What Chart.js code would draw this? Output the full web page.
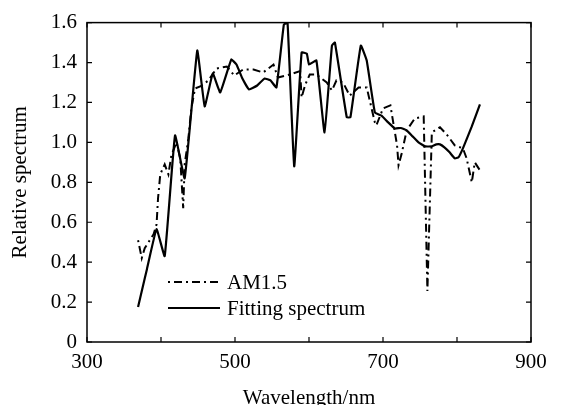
<!DOCTYPE html>
<html>
<head>
<meta charset="utf-8">
<script src="https://cdn.jsdelivr.net/npm/chart.js@4.4.1/dist/chart.umd.min.js"></script>
<style>
  html, body { margin: 0; padding: 0; background: #fff; }
  #wrap { width: 563px; height: 405px; }
</style>
</head>
<body>
<div id="wrap"><canvas id="spectrumChart"></canvas></div>
<script>
// AM1.5 reference spectrum (dash-dot)
const amWavelength = [369, 374, 378, 390, 394, 396, 399, 405, 410, 414, 421, 426, 430, 432, 437, 441, 446, 453, 464, 475, 489, 499, 511, 525, 538, 552, 558, 574, 588, 590, 595, 601, 610, 624, 631, 637, 646, 655, 667, 678, 689, 691, 700, 710, 719, 721, 725, 732, 743, 755, 760, 766, 777, 786, 797, 808, 813, 820, 824, 831];
const amValues = [0.51, 0.42, 0.47, 0.54, 0.59, 0.72, 0.84, 0.89, 0.84, 0.935, 1.0, 0.92, 0.67, 0.89, 1.02, 1.17, 1.27, 1.28, 1.31, 1.37, 1.38, 1.335, 1.365, 1.365, 1.35, 1.39, 1.325, 1.34, 1.357, 1.225, 1.29, 1.34, 1.34, 1.30, 1.26, 1.31, 1.30, 1.234, 1.275, 1.275, 1.10, 1.085, 1.17, 1.185, 0.985, 0.886, 0.94, 1.06, 1.12, 1.13, 0.255, 1.05, 1.076, 1.04, 0.985, 0.97, 0.92, 0.80, 0.90, 0.86];

// Fitting spectrum (solid)
const fitWavelength = [369, 375, 381, 394, 405, 419, 432, 449, 459, 470, 480, 495, 502, 510, 519, 530, 540, 548, 556, 566, 571, 580, 590, 597, 600, 610, 621, 631, 635, 651, 656, 670, 678, 689, 698, 707, 716, 724, 732, 740, 748, 757, 766, 772, 777, 783, 790, 797, 802, 808, 820, 831];
const fitValues = [0.175, 0.27, 0.365, 0.565, 0.43, 1.035, 0.82, 1.46, 1.18, 1.345, 1.25, 1.415, 1.39, 1.32, 1.265, 1.285, 1.32, 1.31, 1.275, 1.59, 1.6, 0.88, 1.45, 1.445, 1.39, 1.41, 1.05, 1.485, 1.5, 1.126, 1.126, 1.485, 1.41, 1.15, 1.134, 1.10, 1.07, 1.072, 1.06, 1.03, 1.0, 0.98, 0.98, 0.99, 0.99, 0.975, 0.95, 0.92, 0.925, 0.97, 1.08, 1.19];

const xLabels = [300, 500, 700, 900];
const seriesNames = ['AM1.5', 'Fitting spectrum'];

const serif = '"Liberation Serif", "Times New Roman", serif';

function toPoints(xs, ys) {
  return xs.map((x, i) => ({ x: x, y: ys[i] }));
}

// frame with inward ticks on all four sides
const framePlugin = {
  id: 'frame',
  afterDraw(chart) {
    const ctx = chart.ctx;
    const a = chart.chartArea;
    const xs = chart.scales.x;
    const ys = chart.scales.y;
    ctx.save();
    ctx.strokeStyle = '#000';
    ctx.lineWidth = 1.5;
    ctx.strokeRect(a.left, a.top, a.right - a.left, a.bottom - a.top);
    ctx.lineWidth = 1.2;
    ctx.beginPath();
    xs.ticks.forEach(t => {
      const px = xs.getPixelForValue(t.value);
      ctx.moveTo(px, a.bottom); ctx.lineTo(px, a.bottom - 5);
      ctx.moveTo(px, a.top); ctx.lineTo(px, a.top + 5);
    });
    ys.ticks.forEach(t => {
      const py = ys.getPixelForValue(t.value);
      ctx.moveTo(a.left, py); ctx.lineTo(a.left + 5, py);
      ctx.moveTo(a.right, py); ctx.lineTo(a.right - 5, py);
    });
    ctx.stroke();
    ctx.restore();
  }
};

// legend drawn inside the plot, lower left
const innerLegend = {
  id: 'innerLegend',
  afterDatasetsDraw(chart) {
    const ctx = chart.ctx;
    const a = chart.chartArea;
    const x0 = a.left + 81, x1 = a.left + 133, tx = a.left + 140;
    const rows = [a.bottom - 60, a.bottom - 34];
    ctx.save();
    ctx.font = '21px ' + serif;
    ctx.fillStyle = '#000';
    ctx.textBaseline = 'middle';
    chart.data.datasets.forEach((ds, i) => {
      ctx.strokeStyle = '#000';
      ctx.lineWidth = ds.borderWidth;
      ctx.setLineDash(ds.borderDash || []);
      ctx.beginPath();
      ctx.moveTo(x0, rows[i]);
      ctx.lineTo(x1, rows[i]);
      ctx.stroke();
      ctx.setLineDash([]);
      ctx.fillText(ds.label, tx, rows[i] + 1);
    });
    ctx.restore();
  }
};

new Chart(document.getElementById('spectrumChart').getContext('2d'), {
  type: 'line',
  data: {
    datasets: [{
      label: seriesNames[0],
      data: toPoints(amWavelength, amValues),
      borderColor: '#000',
      borderWidth: 2,
      borderDash: [2, 4, 8, 4],
      pointRadius: 0,
      tension: 0,
      fill: false
    }, {
      label: seriesNames[1],
      data: toPoints(fitWavelength, fitValues),
      borderColor: '#000',
      borderWidth: 2.2,
      pointRadius: 0,
      tension: 0.1,
      fill: false
    }]
  },
  options: {
    responsive: true,
    maintainAspectRatio: false,
    animation: false,
    layout: { padding: { top: 19, right: 32, left: 0, bottom: 0 } },
    plugins: {
      legend: { display: false },
      tooltip: { enabled: false }
    },
    scales: {
      x: {
        type: 'linear',
        min: 300,
        max: 900,
        afterFit(scale) { scale.height = 63; },
        grid: { display: false, drawTicks: false },
        border: { display: false },
        ticks: {
          stepSize: 100,
          padding: 8,
          autoSkip: false,
          maxRotation: 0,
          color: '#000',
          font: { family: serif, size: 21 },
          callback: v => xLabels.includes(v) ? String(v) : ''
        },
        title: {
          display: true,
          text: 'Wavelength/nm',
          color: '#000',
          font: { family: serif, size: 21, lineHeight: 0.6 },
          padding: { top: 0, bottom: 0 }
        }
      },
      y: {
        min: 0,
        max: 1.6,
        afterFit(scale) { scale.width = 87; },
        grid: { display: false, drawTicks: false },
        border: { display: false },
        ticks: {
          stepSize: 0.2,
          padding: 10,
          color: '#000',
          font: { family: serif, size: 21 },
          callback: v => v === 0 ? '0' : v.toFixed(1)
        },
        title: {
          display: true,
          text: 'Relative spectrum',
          color: '#000',
          font: { family: serif, size: 21 },
          padding: { top: 8, bottom: 0 }
        }
      }
    }
  },
  plugins: [framePlugin, innerLegend]
});
</script>
</body>
</html>
